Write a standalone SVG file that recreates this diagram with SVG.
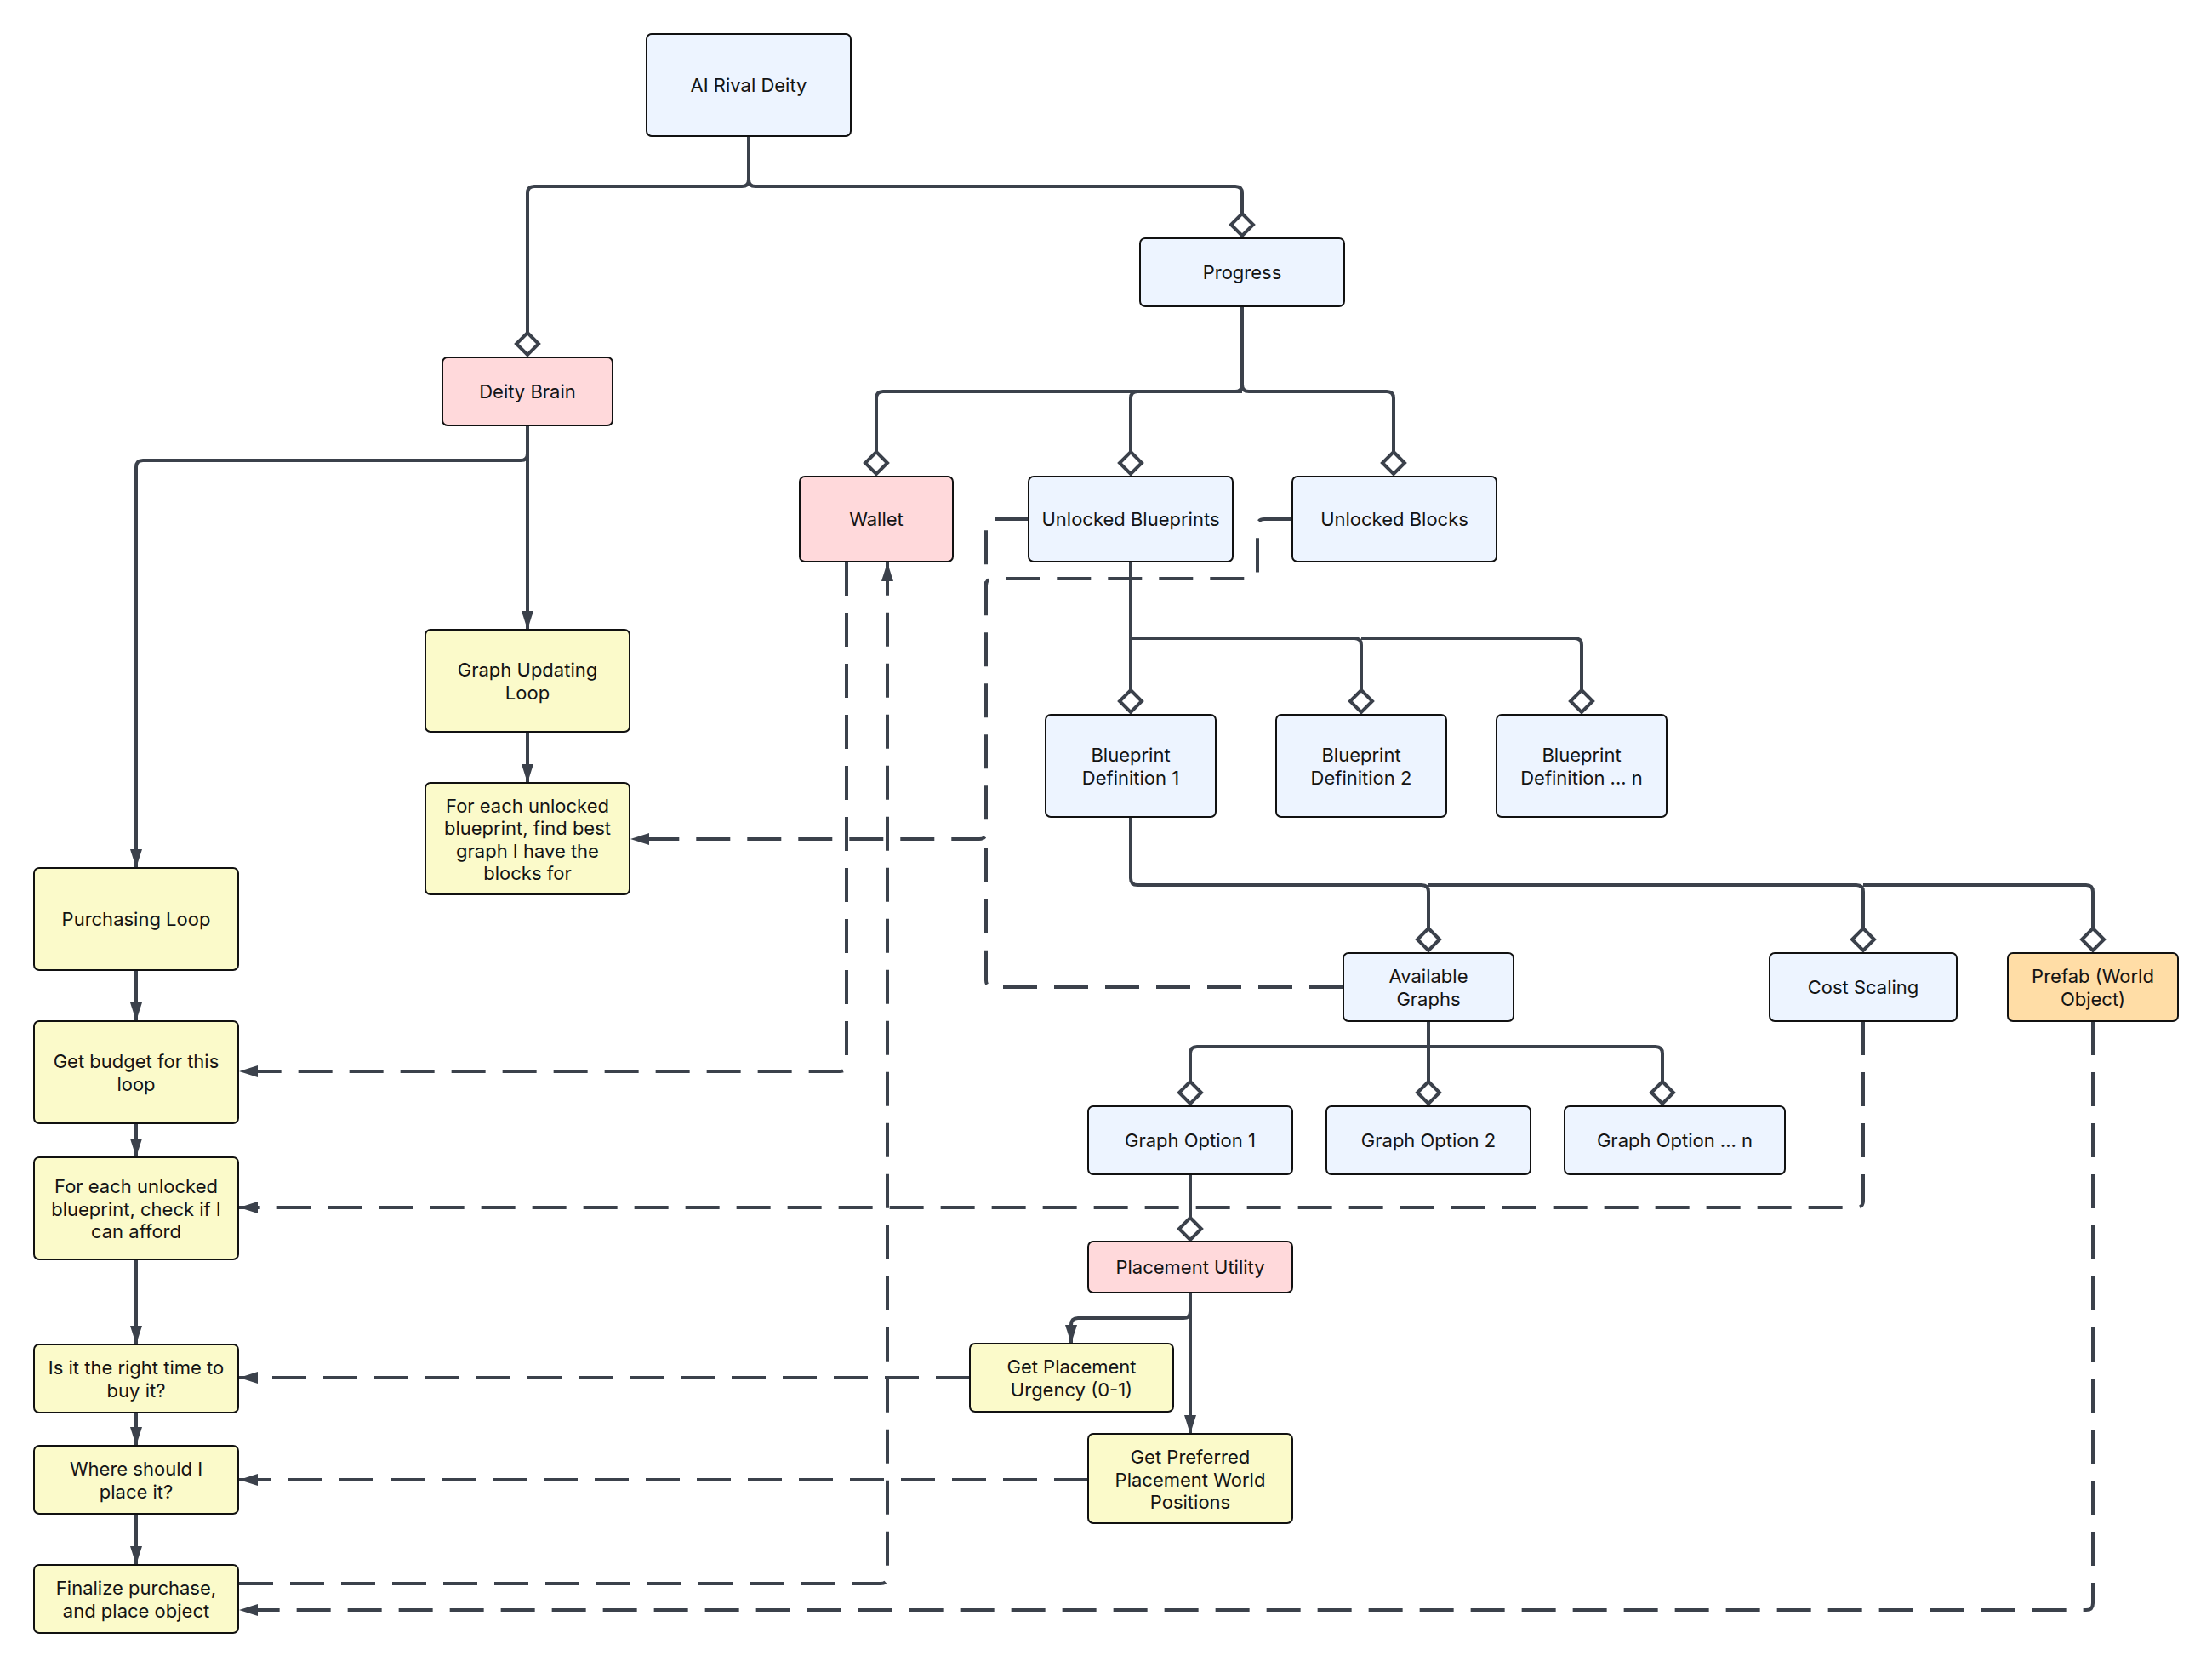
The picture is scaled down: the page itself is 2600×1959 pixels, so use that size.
<svg xmlns="http://www.w3.org/2000/svg" width="2600" height="1959" viewBox="0 0 2600 1959">
<style>
.box{stroke:#111;stroke-width:2}
.blue{fill:#EDF4FF}.pink{fill:#FFD9DB}.yel{fill:#FBFACA}.ora{fill:#FFDDA6}
text{font-family:Inter,"Liberation Sans",sans-serif;font-size:22px;fill:#141414;text-anchor:middle}
.c{fill:none;stroke:#3B414B;stroke-width:4;stroke-linejoin:round}
.d{stroke-dasharray:40 20}
</style>
<defs>
<marker id="arr" markerUnits="userSpaceOnUse" viewBox="0 0 22 14" refX="22" refY="7" markerWidth="22" markerHeight="14" orient="auto"><path d="M0,0 L22,7 L0,14 Z" fill="#3B414B"/></marker>
<marker id="dia" markerUnits="userSpaceOnUse" viewBox="-20 -20 40 40" refX="13" refY="0" markerWidth="40" markerHeight="40" orient="auto"><path d="M-13,0 L0,-13 L13,0 L0,13 Z" fill="#fff" stroke="#3B414B" stroke-width="4"/></marker>
</defs>
<rect width="2600" height="1959" fill="#fff"/>
<g id="connectors">
<path class="c" marker-end="url(#dia)" d="M880,160 V211 Q880,219 872,219 H628 Q620,219 620,227 V417"/>
<path class="c" marker-end="url(#dia)" d="M880,160 V211 Q880,219 888,219 H1452 Q1460,219 1460,227 V277"/>
<path class="c" marker-end="url(#dia)" d="M1460,360 V452 Q1460,460 1452,460 H1038 Q1030,460 1030,468 V557"/>
<path class="c" marker-end="url(#dia)" d="M1460,360 V452 Q1460,460 1468,460 H1630 Q1638,460 1638,468 V557"/>
<path class="c" marker-end="url(#dia)" d="M1460,460 H1337 Q1329,460 1329,468 V557"/>
<path class="c" marker-end="url(#arr)" d="M620,500 V533 Q620,541 612,541 H168 Q160,541 160,549 V1020"/>
<path class="c" marker-end="url(#arr)" d="M620,500 V740"/>
<path class="c" marker-end="url(#arr)" d="M620,860 V920"/>
<path class="c" marker-end="url(#arr)" d="M160,1140 V1200"/>
<path class="c" marker-end="url(#arr)" d="M160,1320 V1360"/>
<path class="c" marker-end="url(#arr)" d="M160,1480 V1580"/>
<path class="c" marker-end="url(#arr)" d="M160,1660 V1699"/>
<path class="c" marker-end="url(#arr)" d="M160,1779 V1839"/>
<path class="c" marker-end="url(#dia)" d="M1329,660 V837"/>
<path class="c" marker-end="url(#dia)" d="M1329,750 H1592 Q1600,750 1600,758 V837"/>
<path class="c" marker-end="url(#dia)" d="M1600,750 H1851 Q1859,750 1859,758 V837"/>
<path class="c" marker-end="url(#dia)" d="M1329,960 V1032 Q1329,1040 1337,1040 H1671 Q1679,1040 1679,1048 V1117"/>
<path class="c" marker-end="url(#dia)" d="M1679,1040 H2182 Q2190,1040 2190,1048 V1117"/>
<path class="c" marker-end="url(#dia)" d="M2190,1040 H2452 Q2460,1040 2460,1048 V1117"/>
<path class="c" marker-end="url(#dia)" d="M1679,1200 V1297"/>
<path class="c" marker-end="url(#dia)" d="M1679,1230 H1407 Q1399,1230 1399,1238 V1297"/>
<path class="c" marker-end="url(#dia)" d="M1679,1230 H1946 Q1954,1230 1954,1238 V1297"/>
<path class="c" marker-end="url(#dia)" d="M1399,1380 V1457"/>
<path class="c" marker-end="url(#arr)" d="M1399,1519 V1541 Q1399,1549 1391,1549 H1267 Q1259,1549 1259,1557 V1579"/>
<path class="c" marker-end="url(#arr)" d="M1399,1519 V1685"/>
<path class="c d" marker-end="url(#arr)" d="M995,660 V1251 Q995,1259 987,1259 H281"/>
<path class="c d" marker-end="url(#arr)" d="M281,1861 H1035 Q1043,1861 1043,1853 V661"/>
<path class="c d" marker-end="url(#arr)" d="M1209,610 H1167 Q1159,610 1159,618 V978 Q1159,986 1151,986 H741"/>
<path class="c d" d="M1519,610 H1486 Q1478,610 1478,618 V672 Q1478,680 1470,680 H1167 Q1159,680 1159,688"/>
<path class="c d" d="M1579,1160 H1167 Q1159,1160 1159,1152 V986"/>
<path class="c d" marker-end="url(#arr)" d="M2190,1200 V1411 Q2190,1419 2182,1419 H281"/>
<path class="c d" marker-end="url(#arr)" d="M1140,1619 H281"/>
<path class="c d" marker-end="url(#arr)" d="M1279,1739 H281"/>
<path class="c d" marker-end="url(#arr)" d="M2460,1200 V1884 Q2460,1892 2452,1892 H281"/>
</g>
<g id="n-ai"><rect class="box blue" x="760" y="40" width="240" height="120" rx="6"/><text x="880" y="108">AI Rival Deity</text></g>
<g id="n-progress"><rect class="box blue" x="1340" y="280" width="240" height="80" rx="6"/><text x="1460" y="328">Progress</text></g>
<g id="n-brain"><rect class="box pink" x="520" y="420" width="200" height="80" rx="6"/><text x="620" y="468">Deity Brain</text></g>
<g id="n-wallet"><rect class="box pink" x="940" y="560" width="180" height="100" rx="6"/><text x="1030" y="618">Wallet</text></g>
<g id="n-ubp"><rect class="box blue" x="1209" y="560" width="240" height="100" rx="6"/><text x="1329" y="618">Unlocked Blueprints</text></g>
<g id="n-ubl"><rect class="box blue" x="1519" y="560" width="240" height="100" rx="6"/><text x="1639" y="618">Unlocked Blocks</text></g>
<g id="n-gul"><rect class="box yel" x="500" y="740" width="240" height="120" rx="6"/><text x="620" y="795">Graph Updating</text><text x="620" y="821.5">Loop</text></g>
<g id="n-findbest"><rect class="box yel" x="500" y="920" width="240" height="131" rx="6"/><text x="620" y="954.5">For each unlocked</text><text x="620" y="981">blueprint, find best</text><text x="620" y="1007.5">graph I have the</text><text x="620" y="1034">blocks for</text></g>
<g id="n-purch"><rect class="box yel" x="40" y="1020" width="240" height="120" rx="6"/><text x="160" y="1088">Purchasing Loop</text></g>
<g id="n-budget"><rect class="box yel" x="40" y="1200" width="240" height="120" rx="6"/><text x="160" y="1255">Get budget for this</text><text x="160" y="1281.5">loop</text></g>
<g id="n-check"><rect class="box yel" x="40" y="1360" width="240" height="120" rx="6"/><text x="160" y="1402">For each unlocked</text><text x="160" y="1428.5">blueprint, check if I</text><text x="160" y="1455">can afford</text></g>
<g id="n-time"><rect class="box yel" x="40" y="1580" width="240" height="80" rx="6"/><text x="160" y="1615">Is it the right time to</text><text x="160" y="1641.5">buy it?</text></g>
<g id="n-where"><rect class="box yel" x="40" y="1699" width="240" height="80" rx="6"/><text x="160" y="1734">Where should I</text><text x="160" y="1760.5">place it?</text></g>
<g id="n-final"><rect class="box yel" x="40" y="1839" width="240" height="80" rx="6"/><text x="160" y="1874">Finalize purchase,</text><text x="160" y="1900.5">and place object</text></g>
<g id="n-bp1"><rect class="box blue" x="1229" y="840" width="200" height="120" rx="6"/><text x="1329" y="895">Blueprint</text><text x="1329" y="921.5">Definition 1</text></g>
<g id="n-bp2"><rect class="box blue" x="1500" y="840" width="200" height="120" rx="6"/><text x="1600" y="895">Blueprint</text><text x="1600" y="921.5">Definition 2</text></g>
<g id="n-bpn"><rect class="box blue" x="1759" y="840" width="200" height="120" rx="6"/><text x="1859" y="895">Blueprint</text><text x="1859" y="921.5">Definition ... n</text></g>
<g id="n-avail"><rect class="box blue" x="1579" y="1120" width="200" height="80" rx="6"/><text x="1679" y="1155">Available</text><text x="1679" y="1181.5">Graphs</text></g>
<g id="n-cost"><rect class="box blue" x="2080" y="1120" width="220" height="80" rx="6"/><text x="2190" y="1168">Cost Scaling</text></g>
<g id="n-prefab"><rect class="box ora" x="2360" y="1120" width="200" height="80" rx="6"/><text x="2460" y="1155">Prefab (World</text><text x="2460" y="1181.5">Object)</text></g>
<g id="n-go1"><rect class="box blue" x="1279" y="1300" width="240" height="80" rx="6"/><text x="1399" y="1348">Graph Option 1</text></g>
<g id="n-go2"><rect class="box blue" x="1559" y="1300" width="240" height="80" rx="6"/><text x="1679" y="1348">Graph Option 2</text></g>
<g id="n-gon"><rect class="box blue" x="1839" y="1300" width="259" height="80" rx="6"/><text x="1968.5" y="1348">Graph Option ... n</text></g>
<g id="n-pu"><rect class="box pink" x="1279" y="1459" width="240" height="60" rx="6"/><text x="1399" y="1497">Placement Utility</text></g>
<g id="n-urg"><rect class="box yel" x="1140" y="1579" width="239" height="80" rx="6"/><text x="1259.5" y="1614">Get Placement</text><text x="1259.5" y="1640.5">Urgency (0-1)</text></g>
<g id="n-pref"><rect class="box yel" x="1279" y="1685" width="240" height="105" rx="6"/><text x="1399" y="1720">Get Preferred</text><text x="1399" y="1746.5">Placement World</text><text x="1399" y="1773">Positions</text></g>
</svg>
